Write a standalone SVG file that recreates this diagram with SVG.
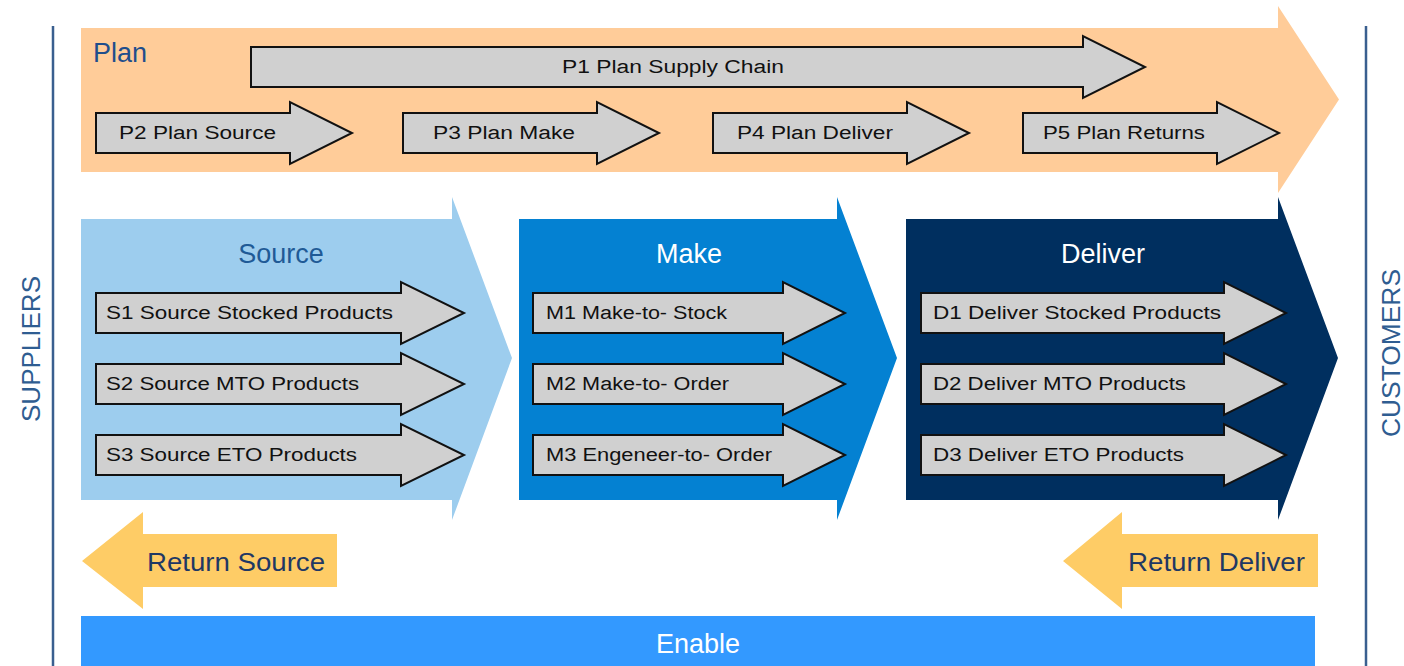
<svg xmlns="http://www.w3.org/2000/svg" width="1404" height="666" viewBox="0 0 1404 666">
<style>
.g{fill:#d0d0d0;stroke:#111;stroke-width:2;stroke-linejoin:miter}
.gt{font-family:"Liberation Sans",Arial,sans-serif;font-size:18px;fill:#111}
.hd{font-family:"Liberation Sans",Arial,sans-serif;font-size:27px}
.side{font-family:"Liberation Sans",Arial,sans-serif;font-size:25px;fill:#2f5d91}
.ret{font-family:"Liberation Sans",Arial,sans-serif;font-size:25px;fill:#1f3864}
.vl{stroke:#3a5f8f;stroke-width:2.5}
</style>
<rect width="1404" height="666" fill="#ffffff"/>
<g id="connectors">
<line class="vl" x1="53" y1="26" x2="53" y2="666"/>
<line class="vl" x1="1366" y1="26" x2="1366" y2="666"/>
</g>
<g id="suppliers"><text class="side" transform="translate(40,349) rotate(-90)" text-anchor="middle" textLength="146" lengthAdjust="spacingAndGlyphs">SUPPLIERS</text></g>
<g id="customers"><text class="side" transform="translate(1400,353) rotate(-90)" text-anchor="middle" textLength="168" lengthAdjust="spacingAndGlyphs">CUSTOMERS</text></g>

<g id="plan">
<path d="M81,28 H1278 V6 L1339,99.5 L1278,193 V172 H81 Z" fill="#ffcc99"/>
<text class="hd" x="93" y="62" fill="#1f4e8c">Plan</text>
</g>
<g id="p1"><path class="g" d="M251,47 H1083 V36 L1145,67 L1083,98 V87 H251 Z"/><text class="gt" x="562" y="73" textLength="222" lengthAdjust="spacingAndGlyphs">P1 Plan Supply Chain</text></g>
<g id="p2"><path class="g" d="M96,113 H290 V102 L352,133 L290,164 V153 H96 Z"/><text class="gt" x="119" y="139" textLength="157" lengthAdjust="spacingAndGlyphs">P2 Plan Source</text></g>
<g id="p3"><path class="g" d="M403,113 H597 V102 L659,133 L597,164 V153 H403 Z"/><text class="gt" x="433" y="139" textLength="142" lengthAdjust="spacingAndGlyphs">P3 Plan Make</text></g>
<g id="p4"><path class="g" d="M713,113 H907 V102 L969,133 L907,164 V153 H713 Z"/><text class="gt" x="737" y="139" textLength="156" lengthAdjust="spacingAndGlyphs">P4 Plan Deliver</text></g>
<g id="p5"><path class="g" d="M1023,113 H1217 V102 L1279,133 L1217,164 V153 H1023 Z"/><text class="gt" x="1043" y="139" textLength="162" lengthAdjust="spacingAndGlyphs">P5 Plan Returns</text></g>

<g id="source">
<path d="M81,219 H452 V197 L512,358 L452,520 V500 H81 Z" fill="#9dcdee"/>
<text class="hd" x="281" y="263" text-anchor="middle" fill="#1f5a96">Source</text>
</g>
<g id="make">
<path d="M519,219 H837 V197 L897,358 L837,520 V500 H519 Z" fill="#0481d2"/>
<text class="hd" x="689" y="263" text-anchor="middle" fill="#ffffff">Make</text>
</g>
<g id="deliver">
<path d="M906,219 H1278 V197 L1338,358 L1278,520 V500 H906 Z" fill="#002f5f"/>
<text class="hd" x="1103" y="263" text-anchor="middle" fill="#ffffff">Deliver</text>
</g>

<g id="s1"><path class="g" d="M96,293 H401 V282 L464,313 L401,344 V333 H96 Z"/><text class="gt" x="106" y="319" textLength="287" lengthAdjust="spacingAndGlyphs">S1 Source Stocked Products</text></g>
<g id="s2"><path class="g" d="M96,364 H401 V353 L464,384 L401,415 V404 H96 Z"/><text class="gt" x="106" y="390" textLength="253" lengthAdjust="spacingAndGlyphs">S2 Source MTO Products</text></g>
<g id="s3"><path class="g" d="M96,435 H401 V424 L464,455 L401,486 V475 H96 Z"/><text class="gt" x="106" y="461" textLength="251" lengthAdjust="spacingAndGlyphs">S3 Source ETO Products</text></g>

<g id="m1"><path class="g" d="M533,293 H783 V282 L845,313 L783,344 V333 H533 Z"/><text class="gt" x="546" y="319" textLength="181" lengthAdjust="spacingAndGlyphs">M1 Make-to- Stock</text></g>
<g id="m2"><path class="g" d="M533,364 H783 V353 L845,384 L783,415 V404 H533 Z"/><text class="gt" x="546" y="390" textLength="183" lengthAdjust="spacingAndGlyphs">M2 Make-to- Order</text></g>
<g id="m3"><path class="g" d="M533,435 H783 V424 L845,455 L783,486 V475 H533 Z"/><text class="gt" x="546" y="461" textLength="226" lengthAdjust="spacingAndGlyphs">M3 Engeneer-to- Order</text></g>

<g id="d1"><path class="g" d="M921,293 H1224 V282 L1286,313 L1224,344 V333 H921 Z"/><text class="gt" x="933" y="319" textLength="288" lengthAdjust="spacingAndGlyphs">D1 Deliver Stocked Products</text></g>
<g id="d2"><path class="g" d="M921,364 H1224 V353 L1286,384 L1224,415 V404 H921 Z"/><text class="gt" x="933" y="390" textLength="253" lengthAdjust="spacingAndGlyphs">D2 Deliver MTO Products</text></g>
<g id="d3"><path class="g" d="M921,435 H1224 V424 L1286,455 L1224,486 V475 H921 Z"/><text class="gt" x="933" y="461" textLength="251" lengthAdjust="spacingAndGlyphs">D3 Deliver ETO Products</text></g>

<g id="return-source">
<path d="M82,561 L143,512 V534 H337 V587 H143 V609 Z" fill="#fecc66"/>
<text class="ret" x="147" y="571" textLength="178" lengthAdjust="spacingAndGlyphs">Return Source</text>
</g>
<g id="return-deliver">
<path d="M1063,561 L1122,512 V534 H1318 V587 H1122 V609 Z" fill="#fecc66"/>
<text class="ret" x="1128" y="571" textLength="177" lengthAdjust="spacingAndGlyphs">Return Deliver</text>
</g>
<g id="enable">
<rect x="81" y="616" width="1234" height="50" fill="#3399ff"/>
<text class="hd" x="698" y="653" text-anchor="middle" fill="#ffffff">Enable</text>
</g>
</svg>
